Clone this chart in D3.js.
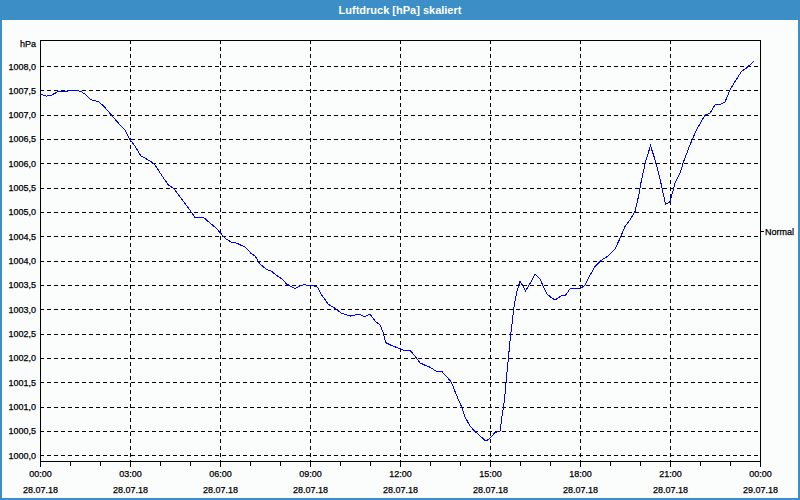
<!DOCTYPE html>
<html><head><meta charset="utf-8">
<script src="https://cdn.jsdelivr.net/npm/d3@7"></script>
<style>
html,body{margin:0;padding:0;background:#fff;}
svg{display:block;}
text{font-family:"Liberation Sans",Arial,sans-serif;}
text.lbl{stroke:#000;stroke-width:0.25;}
</style></head>
<body>
<svg id="chart" width="800" height="500"></svg>
<script>
const title = "Luftdruck [hPa] skaliert";
const unitLabel = "hPa";
const normalLabel = "Normal";
const normalValue = 1004.6;
// minutes since 28.07.18 00:00
const minutes = [0,13,23,37,47,73,83,93,101,117,127,143,153,170,179,190,202,220,230,243,257,267,280,297,310,327,337,353,
360,370,383,393,410,423,430,440,453,463,477,485,493,510,523,530,537,547,555,563,577,590,603,620,637,650,660,670,680,687,691,700,
720,730,740,750,760,770,780,792,803,813,823,832,843,850,860,870,880,892,901,910,920,923,929,935,941,948,953,960,963,971,980,990,1000,1013,1021,1030,1037,1043,1051,1060,1072,
1080,1090,1100,1110,1123,1137,1150,1160,1170,1180,1190,1197,1203,1212,1221,1228,1239,1251,1260,1270,1280,1287,1300,1313,1330,1340,1350,1363,1370,1380,1390,1403,1413,1429];
const pressure = [1007.42,1007.38,1007.40,1007.48,1007.48,1007.50,1007.47,1007.40,1007.31,1007.27,1007.18,1006.99,1006.87,1006.68,1006.50,1006.35,1006.15,1006.05,1005.97,1005.76,1005.55,1005.49,1005.31,1005.08,1004.89,1004.89,1004.80,1004.66,
1004.58,1004.46,1004.38,1004.36,1004.28,1004.14,1004.10,1003.93,1003.82,1003.78,1003.67,1003.62,1003.52,1003.43,1003.49,1003.51,1003.48,1003.49,1003.45,1003.30,1003.10,1003.02,1002.92,1002.86,1002.90,1002.85,1002.90,1002.76,1002.68,1002.51,1002.32,1002.27,
1002.19,1002.15,1002.16,1002.04,1001.90,1001.85,1001.81,1001.73,1001.73,1001.62,1001.50,1001.26,1001.00,1000.79,1000.60,1000.49,1000.40,1000.29,1000.36,1000.47,1000.49,1000.73,1001.14,1001.82,1002.44,1003.05,1003.33,1003.58,1003.53,1003.38,1003.53,1003.72,1003.62,1003.33,1003.25,1003.19,1003.24,1003.28,1003.29,1003.42,1003.43,
1003.42,1003.50,1003.70,1003.88,1004.01,1004.10,1004.24,1004.46,1004.70,1004.84,1005.01,1005.32,1005.66,1006.07,1006.36,1006.14,1005.73,1005.16,1005.21,1005.59,1005.80,1006.03,1006.38,1006.69,1006.99,1007.03,1007.20,1007.22,1007.26,1007.51,1007.68,1007.89,1007.96,1008.11];
const yTicks = [1000,1000.5,1001,1001.5,1002,1002.5,1003,1003.5,1004,1004.5,1005,1005.5,1006,1006.5,1007,1007.5,1008];
const xMajorHours = [0,3,6,9,12,15,18,21,24];
const xTimeLabels = ["00:00","03:00","06:00","09:00","12:00","15:00","18:00","21:00","00:00"];
const xDateLabels = ["28.07.18","28.07.18","28.07.18","28.07.18","28.07.18","28.07.18","28.07.18","28.07.18","29.07.18"];
const xMinorHours = d3.range(0,25);

const svg = d3.select("#chart");
const W=800,H=500;
const L=40,R=760,T=40,B=461;

// frame
svg.append("rect").attr("x",0).attr("y",0).attr("width",W).attr("height",H).attr("fill","#3c8fc6");
svg.append("rect").attr("x",2).attr("y",20).attr("width",W-4).attr("height",H-22).attr("fill","#fbfdfd");
svg.append("text").attr("x",W/2).attr("y",14).attr("text-anchor","middle")
  .attr("fill","#fff").attr("font-weight","bold").attr("font-size",11).text(title);

const x = d3.scaleLinear().domain([0,24*60]).range([L,R]);
const y = d3.scaleLinear().domain([1000,1008]).range([455.3,66]);

const g = svg.append("g");
g.selectAll("line.hg").data(yTicks).join("line")
  .attr("x1",L).attr("x2",R).attr("y1",d=>Math.round(y(d))+0.5).attr("y2",d=>Math.round(y(d))+0.5)
  .attr("stroke","#000").attr("stroke-dasharray","4,3").attr("shape-rendering","crispEdges");
g.selectAll("line.vg").data(xMajorHours.slice(1,-1)).join("line")
  .attr("x1",d=>Math.round(x(d*60))+0.5).attr("x2",d=>Math.round(x(d*60))+0.5).attr("y1",T).attr("y2",B)
  .attr("stroke","#000").attr("stroke-dasharray","4,3").attr("shape-rendering","crispEdges");

const frame = g.append("g").attr("stroke","#000").attr("shape-rendering","crispEdges");
frame.append("line").attr("x1",L+0.5).attr("x2",L+0.5).attr("y1",T).attr("y2",B+1);
frame.append("line").attr("x1",R+0.5).attr("x2",R+0.5).attr("y1",T).attr("y2",B+1);
frame.append("line").attr("x1",L).attr("x2",R+1).attr("y1",T+0.5).attr("y2",T+0.5);
frame.append("line").attr("x1",L).attr("x2",R+1).attr("y1",B+0.5).attr("y2",B+0.5);
frame.selectAll("line.mt").data(xMinorHours).join("line")
  .attr("x1",d=>Math.round(x(d*60))+0.5).attr("x2",d=>Math.round(x(d*60))+0.5)
  .attr("y1",B).attr("y2",d=>d%3===0?B+6:B+5);

svg.selectAll("text.yl").data(yTicks).join("text").attr("class","lbl")
  .attr("x",36).attr("y",d=>y(d)+3.5).attr("text-anchor","end")
  .attr("font-size",9).attr("fill","#000").text(d=>d3.format(".1f")(d).replace(".",","));
svg.append("text").attr("class","lbl").attr("x",36).attr("y",47).attr("text-anchor","end").attr("font-size",9).attr("fill","#000").text(unitLabel);

svg.selectAll("text.xt").data(xMajorHours).join("text").attr("class","lbl")
  .attr("x",d=>x(d*60)+0.5).attr("y",477).attr("text-anchor","middle").attr("font-size",9).attr("fill","#000")
  .text((d,i)=>xTimeLabels[i]);
svg.selectAll("text.xd").data(xMajorHours).join("text").attr("class","lbl")
  .attr("x",d=>x(d*60)+0.5).attr("y",493).attr("text-anchor","middle").attr("font-size",9).attr("fill","#000")
  .text((d,i)=>xDateLabels[i]);

const ny = Math.round(y(normalValue))+0.5;
svg.append("line").attr("x1",R+1).attr("x2",R+4).attr("y1",ny).attr("y2",ny).attr("stroke","#000").attr("shape-rendering","crispEdges");
svg.append("text").attr("class","lbl").attr("x",765).attr("y",ny+3.5).attr("font-size",9).attr("fill","#000").text(normalLabel);

const data = minutes.map((m,i)=>({m, v:pressure[i]}));
svg.append("path").datum(data)
  .attr("fill","none").attr("stroke","#0000ff").attr("stroke-width",1).attr("shape-rendering","crispEdges")
  .attr("d", d3.line().x(d=>x(d.m)).y(d=>y(d.v)));
</script>
</body></html>
